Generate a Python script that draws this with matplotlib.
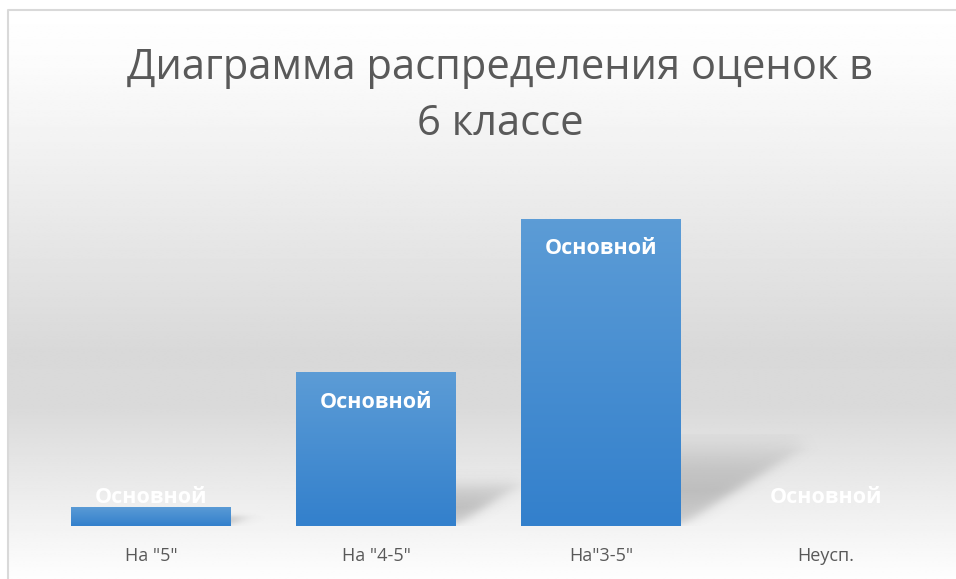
import matplotlib
matplotlib.use("Agg")
import matplotlib.pyplot as plt
import numpy as np
from matplotlib.colors import LinearSegmentedColormap

categories = ['На "5"', 'На "4-5"', 'На"3-5"', 'Неусп.']
values = [1, 8, 16, 0]
bar_labels = ['Основной', 'Основной', 'Основной', 'Основной']
title = 'Диаграмма распределения оценок в\n6 классе'

W, H = 956, 579
fig = plt.figure(figsize=(W / 100, H / 100), dpi=100)

# background gradient + frame
bg = fig.add_axes([0, 0, 1, 1])
bg.set_xlim(0, W)
bg.set_ylim(H, 0)
bg.axis('off')
ys = np.linspace(0, 1, 300)
stops_y = [0.0, 0.1, 0.6, 0.7, 1.0]
stops_c = [1.0, 0.985, 0.85, 0.855, 0.995]
col = np.interp(ys, stops_y, stops_c)
img = np.repeat(col[:, None], 2, axis=1)
bg.imshow(img, cmap='gray', vmin=0, vmax=1, extent=[8, W + 40, H, 10],
          aspect='auto', interpolation='bilinear')
bg.plot([8, 8, W + 5], [H + 5, 10, 10], color='#d9d9d9', lw=1.5)

ax = fig.add_axes([38.5 / W, (H - 526) / H, 900 / W, 345.6 / H])
ax.patch.set_alpha(0)
x = np.arange(len(categories))
width = 0.71
ax.set_xlim(-0.5, len(categories) - 0.5)
ax.set_ylim(0, 18)


def sig(t):
    return 1 / (1 + np.exp(-t))


# soft perspective shadows
for xi, v in zip(x, values):
    if v <= 0:
        continue
    x0, x1 = xi - width / 2, xi + width / 2
    dx, dy = 0.031 * v + 0.03, 0.23 * v + 0.3
    ex = [x0, x1 + dx + 0.12]
    ey = [-0.3, dy + 0.8]
    gx, gy = np.meshgrid(np.linspace(*ex, 300), np.linspace(*ey, 200))
    u = gy / dy
    s = gx - dx * np.clip(u, 0, 1)
    a = 0.36 * sig((x1 - s) / 0.025) * sig((1 - u) / 0.12) * sig(gy / 0.12)
    a *= 0.55 + 0.45 * np.clip(1 - np.abs(u - 0.45) * 1.2, 0, 1)
    rgba = np.zeros(gx.shape + (4,))
    rgba[..., :3] = 0.42
    rgba[..., 3] = a
    ax.imshow(rgba, extent=[ex[0], ex[1], ey[0], ey[1]], origin='lower',
              aspect='auto', interpolation='bilinear', zorder=1)

bar_cmap = LinearSegmentedColormap.from_list('b', ['#3380cc', '#5c9cd6'])
bars = ax.bar(x, values, width=width, color='none', zorder=2)
for b in bars:
    bx, bw, bh = b.get_x(), b.get_width(), b.get_height()
    if bh <= 0:
        continue
    im = ax.imshow(np.linspace(0, 1, 100)[:, None], cmap=bar_cmap,
                   extent=[bx, bx + bw, 0, bh], aspect='auto', origin='lower',
                   interpolation='bilinear', zorder=3)
    im.set_clip_path(b)

for xi, v, lab in zip(x, values, bar_labels):
    ax.text(xi, max(v - 1.55, 1.5), lab, ha='center', va='center',
            color='white', fontsize=15.5, fontweight='bold',
            family='Open Sans', zorder=4)

ax.set_xticks(x)
ax.set_xticklabels(categories, fontsize=13, color='#595959', family='Open Sans')
ax.tick_params(axis='x', length=0, pad=15)
ax.set_yticks([])
for s in ax.spines.values():
    s.set_visible(False)

fig.text(500 / W, 1 - 96 / H, title, ha='center', va='center',
         fontsize=30, color='#595959', family='Open Sans', linespacing=1.42)

fig.savefig('out.png', dpi=100)
